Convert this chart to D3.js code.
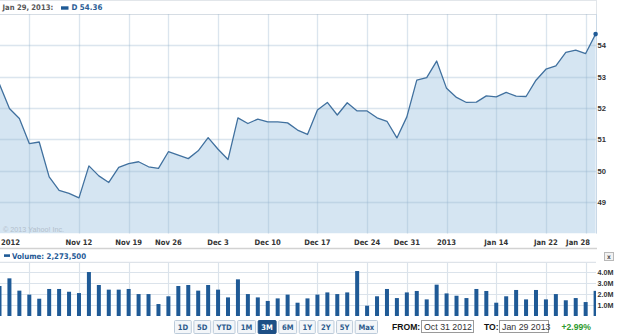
<!DOCTYPE html>
<html><head><meta charset="utf-8">
<script src="https://cdn.jsdelivr.net/npm/d3@7"></script>
<style>
body{margin:0;background:#fff;overflow:hidden;}
svg{display:block;font-family:"DejaVu Sans Condensed","DejaVu Sans",sans-serif;font-stretch:condensed;}
</style></head><body><svg id="c" width="625" height="335"></svg>
<script>
// ---- data ----
const dates = ["2012-10-31","2012-11-01","2012-11-02",
"2012-11-05","2012-11-06","2012-11-07","2012-11-08","2012-11-09",
"2012-11-12","2012-11-13","2012-11-14","2012-11-15","2012-11-16",
"2012-11-19","2012-11-20","2012-11-21","2012-11-23",
"2012-11-26","2012-11-27","2012-11-28","2012-11-29","2012-11-30",
"2012-12-03","2012-12-04","2012-12-05","2012-12-06","2012-12-07",
"2012-12-10","2012-12-11","2012-12-12","2012-12-13","2012-12-14",
"2012-12-17","2012-12-18","2012-12-19","2012-12-20","2012-12-21",
"2012-12-24","2012-12-26","2012-12-27","2012-12-28",
"2012-12-31","2013-01-02","2013-01-03","2013-01-04",
"2013-01-07","2013-01-08","2013-01-09","2013-01-10","2013-01-11",
"2013-01-14","2013-01-15","2013-01-16","2013-01-17","2013-01-18",
"2013-01-22","2013-01-23","2013-01-24","2013-01-25",
"2013-01-28","2013-01-29"];
const prices = [52.76,51.99,51.67,
50.87,50.92,49.81,49.38,49.28,
49.14,50.16,49.84,49.63,50.11,
50.23,50.29,50.13,50.08,
50.61,50.50,50.39,50.64,51.06,
50.69,50.36,51.69,51.51,51.65,
51.56,51.56,51.53,51.30,51.16,
51.94,52.18,51.78,52.17,51.91,
51.91,51.69,51.58,51.05,
51.72,52.89,52.97,53.50,
52.63,52.34,52.18,52.19,52.39,
52.36,52.50,52.38,52.37,52.89,
53.24,53.35,53.78,53.85,
53.74,54.36];
// volume in millions of shares
const volumes = [2.71,3.40,2.29,
1.93,1.56,2.44,2.44,2.19,
2.07,3.97,2.80,2.38,2.38,
2.44,1.98,1.98,1.08,
1.78,2.71,2.80,2.29,2.80,
2.38,1.68,3.31,1.98,1.68,
1.36,1.59,1.93,1.20,1.59,
1.93,2.13,1.98,2.13,4.06,
0.93,1.78,2.44,1.62,
2.13,2.26,1.50,2.83,
2.04,1.83,1.62,2.44,2.26,
1.20,1.78,2.35,1.50,2.35,
1.50,1.98,1.42,1.62,
1.26,2.27];
const priceTicks = [49,50,51,52,53,54];
const volumeTicks = [1,2,3,4];
const volumeTickLabels = ["1.0M","2.0M","3.0M","4.0M"];
const gridDates = ["2012-11-05","2012-11-12","2012-11-19","2012-11-26","2012-12-03","2012-12-10","2012-12-17","2012-12-24","2012-12-31","2013-01-07","2013-01-14","2013-01-22","2013-01-28"];
const labelDates = ["2012-10-31","2012-11-12","2012-11-19","2012-11-26","2012-12-03","2012-12-10","2012-12-17","2012-12-24","2012-12-31","2013-01-07","2013-01-14","2013-01-22","2013-01-28"];
const labelTexts = ["2012","Nov 12","Nov 19","Nov 26","Dec 3","Dec 10","Dec 17","Dec 24","Dec 31","2013","Jan 14","Jan 22","Jan 28"];
const rangeButtons = ["1D","5D","YTD","1M","3M","6M","1Y","2Y","5Y","Max"];
const selectedRange = "3M";
const legendDate = "Jan 29, 2013:";
const symbol = "D";
const volumeLegend = "Volume: 2,273,500";
const fromDate = "Oct 31 2012", toDate = "Jan 29 2013", changeText = "+2.99%";

// ---- layout ----
const svg = d3.select("#c");
const plotL = 0, plotR = 596;
const mainTop = 14, mainBot = 233.6;
const volTop = 262.3, volBot = 316;
const BLUE = "#1f5a96";
const LINE = "#41719f";
const FILL = "#d5e5f2";
const GRID = "rgba(150,178,205,0.34)";
const fs = 7.6;

const x = d3.scalePoint().domain(dates).range([-0.5, 595.6]).padding(0);
const y = d3.scaleLinear().domain([48,55]).range([mainBot, mainTop]);
const yv = d3.scaleLinear().domain([0,4]).range([volBot, 271.7]);

const defs = svg.append("defs");
defs.append("clipPath").attr("id","clipMain").append("rect")
  .attr("x",plotL).attr("y",mainTop).attr("width",plotR-plotL).attr("height",mainBot-mainTop);
defs.append("clipPath").attr("id","clipVol").append("rect")
  .attr("x",plotL).attr("y",volTop).attr("width",plotR-plotL).attr("height",volBot-volTop);

// header
svg.append("line").attr("x1",0).attr("x2",plotR).attr("y1",0.5).attr("y2",0.5).attr("stroke","#e2e6ea");
svg.append("line").attr("x1",plotR+0.5).attr("x2",plotR+0.5).attr("y1",0).attr("y2",mainTop).attr("stroke","#e2e6ea");
svg.append("text").attr("x",2.5).attr("y",10).attr("font-size",fs).attr("font-weight","bold").attr("fill","#555").text(legendDate);
svg.append("rect").attr("x",61).attr("y",6.3).attr("width",7.5).attr("height",3.4).attr("fill",BLUE);
svg.append("text").attr("x",71.5).attr("y",10).attr("font-size",fs+0.3).attr("font-weight","bold").attr("fill","#2a5d95").text(symbol+" "+d3.format(".2f")(prices[prices.length-1]));

// main panel
const gMain = svg.append("g");
const area = d3.area().x((d,i)=>x(dates[i])).y0(mainBot).y1(d=>y(d));
const line = d3.line().x((d,i)=>x(dates[i])).y(d=>y(d));
gMain.append("path").datum(prices).attr("clip-path","url(#clipMain)").attr("d",area).attr("fill",FILL);
// grid
gMain.selectAll(".hg").data(priceTicks.concat([55])).join("line")
  .attr("x1",plotL).attr("x2",plotR).attr("y1",d=>Math.round(y(d))+0.5).attr("y2",d=>Math.round(y(d))+0.5)
  .attr("stroke",d=>d===55?"#d6dde4":GRID).attr("stroke-width",d=>d===55?1.2:1.3);
gMain.selectAll(".vg").data(gridDates).join("line")
  .attr("x1",d=>Math.round(x(d))+0.5).attr("x2",d=>Math.round(x(d))+0.5).attr("y1",mainTop).attr("y2",mainBot)
  .attr("stroke",GRID).attr("stroke-width",1.3);
gMain.append("line").attr("x1",plotR+0.5).attr("x2",plotR+0.5).attr("y1",mainTop).attr("y2",mainBot).attr("stroke","#c9d8e6");
gMain.append("path").datum(prices).attr("clip-path","url(#clipMain)").attr("d",line)
  .attr("fill","none").attr("stroke",LINE).attr("stroke-width",1.3).attr("stroke-linejoin","round");
gMain.append("circle").attr("cx",x(dates[dates.length-1])).attr("cy",y(prices[prices.length-1])).attr("r",2.3).attr("fill",BLUE);
gMain.append("text").attr("x",3).attr("y",232).attr("font-size",7.2).attr("font-family","'Liberation Sans',Arial,sans-serif")
  .attr("fill","#b3c0cc").text("\u00a9 2013 Yahoo! Inc.");

// price axis labels (right)
const yAxis = d3.axisRight(y).tickValues(priceTicks).tickSize(0).tickPadding(0).tickFormat(d3.format("d"));
const ya = svg.append("g").attr("transform",`translate(${plotR+1},0)`).call(yAxis);
ya.select(".domain").remove();
ya.selectAll("text").attr("font-size",fs).attr("font-weight","bold").attr("fill","#333").attr("font-family",null).attr("x",0.5);

// x labels
const xl = svg.append("g");
xl.selectAll("text").data(labelDates).join("text")
  .attr("y",245).attr("font-size",fs).attr("font-weight","bold").attr("fill","#333")
  .text((d,i)=>labelTexts[i])
  .each(function(d){
    const w = this.getComputedTextLength();
    let cx = x(d);
    cx = Math.max(cx, 1 + w/2);
    cx = Math.min(cx, 590 - w/2);
    d3.select(this).attr("x", cx - w/2);
  });
svg.append("line").attr("x1",0).attr("x2",597).attr("y1",248.5).attr("y2",248.5).attr("stroke","#d2d2d2").attr("stroke-width",1.6);

// close button
svg.append("rect").attr("x",604.5).attr("y",252.5).attr("width",9).attr("height",8).attr("fill","#f2f2f2").attr("stroke","#b8b8b8");
svg.append("text").attr("x",609).attr("y",259).attr("text-anchor","middle").attr("font-size",6.5).attr("font-weight","bold").attr("fill","#555").text("x");

// volume legend
svg.append("rect").attr("x",4).attr("y",254.3).attr("width",6).attr("height",2.6).attr("fill",BLUE);
svg.append("text").attr("x",12).attr("y",258.6).attr("font-size",fs+0.2).attr("font-weight","bold").attr("fill",BLUE).text(volumeLegend);

// volume panel
const gVol = svg.append("g");
gVol.append("line").attr("x1",plotL).attr("x2",plotR).attr("y1",volTop).attr("y2",volTop).attr("stroke","#d6dde4");
gVol.selectAll(".vhg").data(volumeTicks).join("line")
  .attr("x1",plotL).attr("x2",plotR).attr("y1",d=>Math.round(yv(d))+0.5).attr("y2",d=>Math.round(yv(d))+0.5)
  .attr("stroke","#dbe3eb").attr("stroke-width",1.2);
gVol.selectAll(".vvg").data(gridDates).join("line")
  .attr("x1",d=>Math.round(x(d))+0.5).attr("x2",d=>Math.round(x(d))+0.5).attr("y1",volTop).attr("y2",volBot)
  .attr("stroke","#dbe3eb").attr("stroke-width",1.2);
gVol.append("g").attr("clip-path","url(#clipVol)").selectAll("rect").data(volumes).join("rect")
  .attr("x",(d,i)=>x(dates[i])-2).attr("width",4)
  .attr("y",d=>yv(d)).attr("height",d=>volBot-yv(d)).attr("fill",BLUE);
const vAxis = d3.axisRight(yv).tickValues(volumeTicks).tickSize(0).tickPadding(0).tickFormat((d,i)=>volumeTickLabels[i]);
const va = svg.append("g").attr("transform",`translate(${plotR+1.5},0)`).call(vAxis);
va.select(".domain").remove();
va.selectAll("text").attr("font-size",fs-0.4).attr("font-weight","bold").attr("fill","#333").attr("font-family",null).attr("x",0);

// range buttons: fit between x=174 and x=378
const gb = svg.append("g");
const btnStart = 174, btnEnd = 378, gap = 1.6;
const items = rangeButtons.map(b=>{
  const g = gb.append("g");
  const sel = b===selectedRange;
  const r = g.append("rect").attr("y",320.5).attr("height",13).attr("rx",1)
    .attr("fill",sel?"#1d4f85":"#f3f6f9").attr("stroke",sel?"#1d4f85":"#bccbda");
  const t = g.append("text").attr("y",330).attr("font-size",fs).attr("font-weight","bold")
    .attr("fill",sel?"#fff":"#2d5b8d").attr("text-anchor","middle").text(b);
  return {r, t, w: t.node().getComputedTextLength() + 7};
});
const totalW = d3.sum(items, d=>d.w);
const k = (btnEnd - btnStart - gap*(items.length-1)) / totalW;
let bx = btnStart;
items.forEach(it=>{
  const bw = it.w * k;
  it.r.attr("x",bx+0.5).attr("width",bw-1);
  it.t.attr("x",bx + bw/2);
  bx += bw + gap;
});

// from / to
const sans = "'Liberation Sans',Arial,sans-serif";
svg.append("text").attr("x",392).attr("y",330).attr("font-size",8.6).attr("font-weight","bold").attr("font-family",sans).attr("fill","#111").text("FROM:");
svg.append("rect").attr("x",421.5).attr("y",320.5).attr("width",52).attr("height",12).attr("fill","#fff").attr("stroke","#9a9a9a");
svg.append("text").attr("x",424).attr("y",330).attr("font-size",8.8).attr("font-family",sans).attr("fill","#333").text(fromDate);
svg.append("text").attr("x",484).attr("y",330).attr("font-size",8.6).attr("font-weight","bold").attr("font-family",sans).attr("fill","#111").text("TO:");
svg.append("rect").attr("x",499.5).attr("y",320.5).attr("width",49).attr("height",12).attr("fill","#fff").attr("stroke","#9a9a9a");
svg.append("text").attr("x",502).attr("y",330).attr("font-size",8.8).attr("font-family",sans).attr("fill","#333").text(toDate);
svg.append("text").attr("x",561.5).attr("y",330).attr("font-size",8.6).attr("font-weight","bold").attr("font-family",sans).attr("fill","#2e9a2e").text(changeText);
</script></body></html>
